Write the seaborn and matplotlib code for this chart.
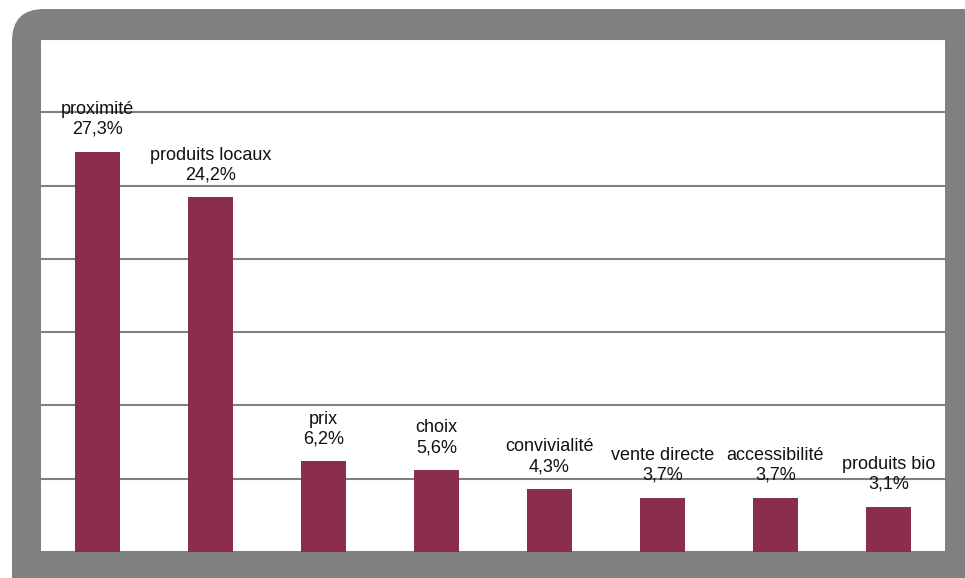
import matplotlib
matplotlib.use("Agg")
import matplotlib.pyplot as plt
from matplotlib.patches import FancyBboxPatch
import seaborn as sns
import pandas as pd

categories = ["proximité", "produits locaux", "prix", "choix", "convivialité",
              "vente directe", "accessibilité", "produits bio"]
values = [27.3, 24.2, 6.2, 5.6, 4.3, 3.7, 3.7, 3.1]

sns.set_theme(style="white")
plt.rcParams["font.family"] = ["Liberation Sans", "DejaVu Sans"]

W, H = 965, 578
fig = plt.figure(figsize=(W / 100, H / 100), dpi=100)
fig.patch.set_facecolor("white")

# grey rounded frame behind the plot area (pixel coordinates)
bg = fig.add_axes([0, 0, 1, 1])
bg.set_xlim(0, W)
bg.set_ylim(H, 0)
bg.axis("off")
bg.add_patch(FancyBboxPatch((12, 9), 1000, 640,
                            boxstyle="round,pad=0,rounding_size=32",
                            facecolor="#808080", edgecolor="none"))

left, right, top, bottom = 41, 945, 39, 552
ax = fig.add_axes([left / W, (H - bottom) / H, (right - left) / W, (bottom - top) / H])
ax.set_facecolor("white")

df = pd.DataFrame({"cat": categories, "val": values})
sns.barplot(data=df, x="cat", y="val", color="#8A2E4C", saturation=1,
            width=0.4, ax=ax, edgecolor="none")

ax.set_ylim(0, 35)
ax.set_yticks(range(0, 36, 5))
ax.yaxis.grid(True, color="#808080", linewidth=1.5)
ax.set_axisbelow(True)
ax.set_xlabel("")
ax.set_ylabel("")
ax.set_xticklabels([])
ax.set_yticklabels([])
ax.tick_params(left=False, bottom=False)
for s in ax.spines.values():
    s.set_visible(False)
ax.set_xlim(-0.5, len(categories) - 0.5)

for i, (c, v) in enumerate(zip(categories, values)):
    label = f"{c}\n{v:.1f}%".replace(".", ",")
    ax.annotate(label, (i, v), xytext=(0, 10), textcoords="offset points",
                ha="center", va="bottom", fontsize=13, color="#111111",
                linespacing=1.2)

fig.savefig("out.png", dpi=100)
